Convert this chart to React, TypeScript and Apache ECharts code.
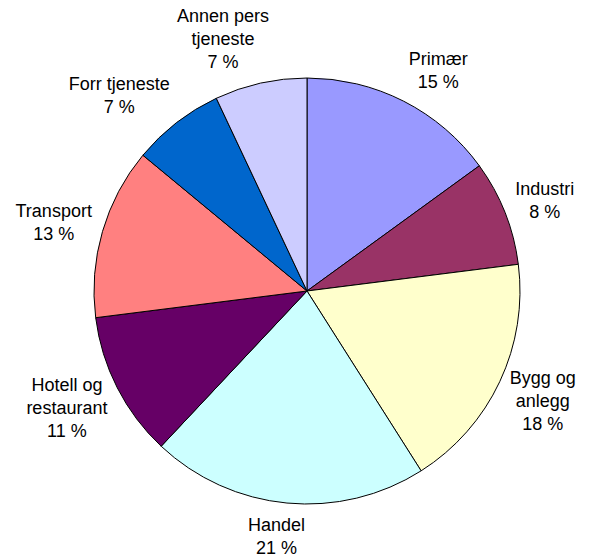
import React, { useEffect, useRef } from "react";
import * as echarts from "echarts";

const categories = [
  "Primær",
  "Industri",
  "Bygg og\nanlegg",
  "Handel",
  "Hotell og\nrestaurant",
  "Transport",
  "Forr tjeneste",
  "Annen pers\ntjeneste",
];
const shares = [15, 8, 18, 21, 11, 13, 7, 7];
const colors = [
  "#9999FF",
  "#993366",
  "#FFFFCC",
  "#CCFFFF",
  "#660066",
  "#FF8080",
  "#0066CC",
  "#CCCCFF",
];

const CX = 307;
const CY = 291;
const R = 213;
const GAP = 11;

export default function App() {
  const ref = useRef<HTMLDivElement>(null);
  useEffect(() => {
    if (!ref.current) return;
    const chart = echarts.init(ref.current, null, { renderer: "svg" });
    const total = shares.reduce((a, b) => a + b, 0);
    const cum: number[] = [];
    let acc = 0;
    shares.forEach((v) => {
      cum.push(acc);
      acc += v;
    });
    const clamp = (v: number) => Math.max(-1, Math.min(1, v));
    chart.setOption({
      animation: false,
      backgroundColor: "#ffffff",
      series: [
        {
          type: "pie",
          center: [CX, CY],
          radius: R,
          startAngle: 90,
          clockwise: true,
          avoidLabelOverlap: false,
          itemStyle: { borderColor: "#000000", borderWidth: 1 },
          label: {
            show: true,
            position: "outside",
            color: "#000000",
            fontFamily: "Liberation Sans, Arial, sans-serif",
            fontSize: 18,
            lineHeight: 23,
            align: "center",
            formatter: (p: any) => `${p.name}\n${p.value} %`,
          },
          labelLine: { show: false },
          emphasis: { disabled: true },
          labelLayout: (params: any) => {
            const i = params.dataIndex;
            const mid = ((cum[i] + shares[i] / 2) / total) * Math.PI * 2;
            const ux = Math.sin(mid);
            const uy = -Math.cos(mid);
            const w = params.labelRect.width;
            const h = params.labelRect.height;
            const sx = clamp(3.5 * ux);
            const sy = uy;
            return {
              x: CX + (R + GAP) * ux + (sx * w) / 2,
              y: CY + (R + GAP) * uy + (sy * h) / 2,
              align: "center",
              verticalAlign: "middle",
            };
          },
          data: categories.map((name, i) => ({
            name,
            value: shares[i],
            itemStyle: { color: colors[i] },
          })),
        },
      ],
    });
    return () => chart.dispose();
  }, []);
  return (
    <div
      ref={ref}
      style={{ position: "fixed", left: 0, top: 0, width: 590, height: 560 }}
    />
  );
}
